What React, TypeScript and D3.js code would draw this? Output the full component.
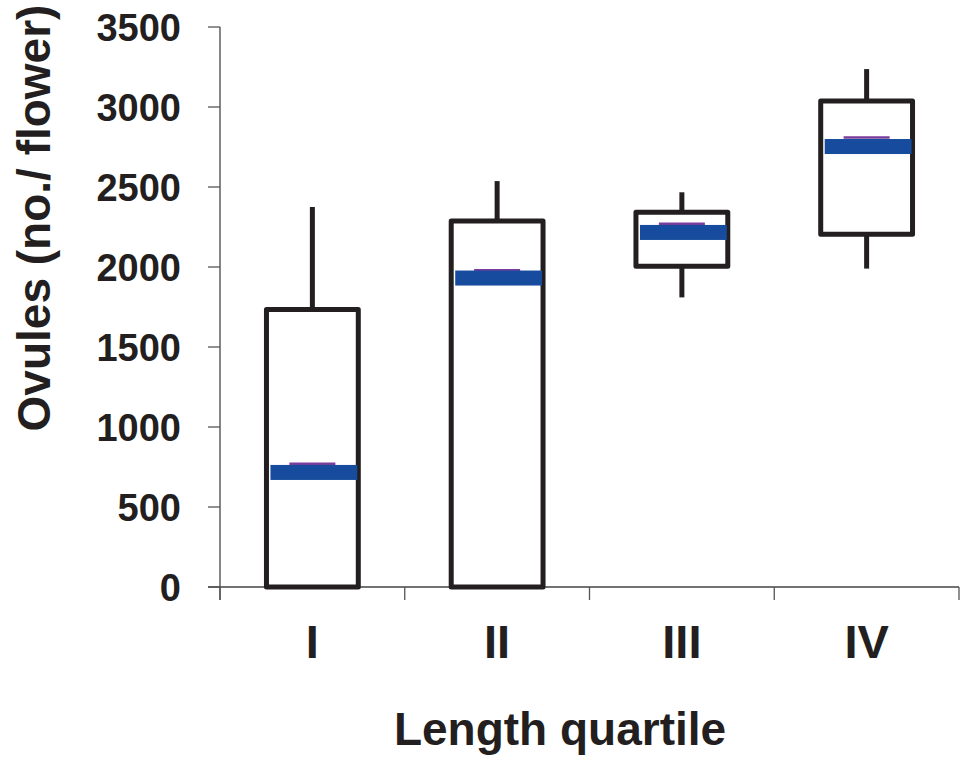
import React from "react";
import * as d3 from "d3";

const categories = ["I", "II", "III", "IV"];
const whiskerLow = [0, 0, 1810, 1990];
const q1 = [0, 0, 2005, 2205];
const median = [716, 1931, 2216, 2753];
const meanVals = [771, 1980, 2271, 2810];
const q3 = [1735, 2287, 2342, 3037];
const whiskerHigh = [2375, 2537, 2467, 3237];
const yTicks = [0, 500, 1000, 1500, 2000, 2500, 3000, 3500];

const W = 969;
const H = 757;
const left = 220;
const right = 959;
const top = 27;
const bottom = 587;
const FONT = "'Liberation Sans', Arial, Helvetica, sans-serif";
const INK = "#231f20";
const BLUE = "#164b9d";
const PURPLE = "#7a3d9c";

export default function App() {
  const x = d3.scaleBand<string>().domain(categories).range([left, right]).paddingInner(0).paddingOuter(0);
  const y = d3.scaleLinear().domain([0, 3500]).range([bottom, top]);
  const bw = x.bandwidth();
  const boxW = bw * 0.497;
  const bounds = d3.range(categories.length + 1).map((i) => left + i * bw);

  return (
    <svg width={W} height={H} style={{ position: "absolute", left: 0, top: 0, background: "#fff" }}>
      {/* axes */}
      <line x1={left} x2={left} y1={y(3500)} y2={bottom + 13} stroke="#444" strokeWidth={1.3} />
      <line x1={left - 12} x2={right} y1={bottom} y2={bottom} stroke="#444" strokeWidth={1.3} />
      {yTicks.map((t) => (
        <g key={t}>
          <line x1={left - 12} x2={left} y1={y(t)} y2={y(t)} stroke="#555" strokeWidth={1.3} />
          <text x={181} y={y(t) + 13.5} textAnchor="end" fontFamily={FONT} fontWeight="bold" fontSize={38} fill={INK}>
            {t}
          </text>
        </g>
      ))}
      {bounds.map((b, i) => (
        <line key={i} x1={b} x2={b} y1={bottom} y2={bottom + 13} stroke="#555" strokeWidth={1.3} />
      ))}
      {categories.map((c) => (
        <text key={c} x={(x(c) as number) + bw / 2} y={658} textAnchor="middle" fontFamily={FONT} fontWeight="bold" fontSize={47} fill={INK}>
          {c}
        </text>
      ))}
      {/* boxes */}
      {categories.map((c, i) => {
        const cx = (x(c) as number) + bw / 2;
        const x0 = cx - boxW / 2;
        return (
          <g key={c}>
            {whiskerHigh[i] > q3[i] && (
              <line x1={cx} x2={cx} y1={y(whiskerHigh[i])} y2={y(q3[i])} stroke={INK} strokeWidth={5} />
            )}
            {whiskerLow[i] < q1[i] && (
              <line x1={cx} x2={cx} y1={y(q1[i])} y2={y(whiskerLow[i])} stroke={INK} strokeWidth={5} />
            )}
            <rect x={x0} y={y(q3[i])} width={boxW} height={y(q1[i]) - y(q3[i])} fill="#fff" stroke={INK} strokeWidth={5} strokeLinejoin="round" />
            <line x1={cx - 23} x2={cx + 23} y1={y(meanVals[i])} y2={y(meanVals[i])} stroke={PURPLE} strokeWidth={2.5} />
            <rect x={x0 + 4} y={y(median[i]) - 7.5} width={boxW - 5} height={15} fill={BLUE} />
          </g>
        );
      })}
      {/* titles */}
      <text x={560} y={745} textAnchor="middle" fontFamily={FONT} fontWeight="bold" fontSize={46} fill={INK}>
        Length quartile
      </text>
      <text transform={`translate(50,218) rotate(-90)`} textAnchor="middle" fontFamily={FONT} fontWeight="bold" fontSize={46} fill={INK}>
        Ovules (no./ flower)
      </text>
    </svg>
  );
}
